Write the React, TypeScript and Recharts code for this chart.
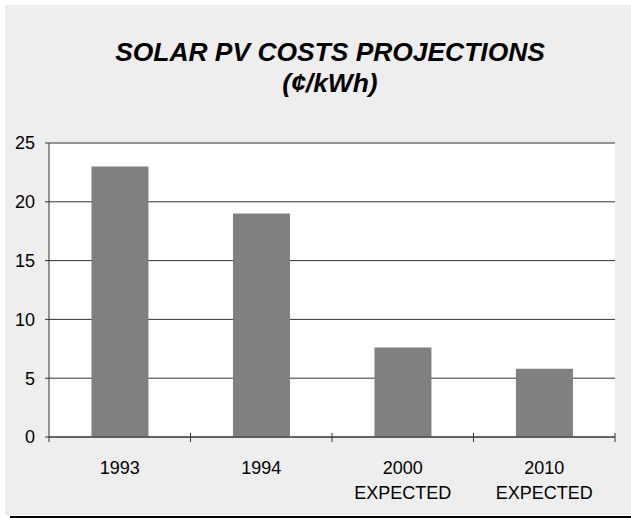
import { BarChart, Bar, XAxis, YAxis, CartesianGrid } from 'recharts';

const categories = ['1993', '1994', '2000 EXPECTED', '2010 EXPECTED'];
const costs = [23, 19, 7.6, 5.8];
const yTicks = [0, 5, 10, 15, 20, 25];
const titleLines = ['SOLAR PV COSTS PROJECTIONS', '(¢/kWh)'];

const data = categories.map((name, i) => ({ name, cost: costs[i] }));

const FONT = '"Liberation Sans", Arial, sans-serif';
const CHART_W = 626;
const CHART_H = 510;
const MARGIN = { top: 138, right: 16, left: 0, bottom: 0 };
const Y_W = 44;
const BAND = (CHART_W - MARGIN.right - Y_W) / categories.length;

function XTick(props: any) {
  const { x, y, payload, index } = props;
  const [first, ...rest] = String(payload.value).split(' ');
  return (
    <g>
      {index === 0 && (
        <line x1={x - BAND / 2} x2={x - BAND / 2} y1={y} y2={y + 5} stroke="#333" />
      )}
      <line x1={x + BAND / 2} x2={x + BAND / 2} y1={y - 4} y2={y + 5} stroke="#333" />
      <text x={x} y={y + 37} textAnchor="middle" fontSize={18} fontFamily={FONT} fill="#000">
        {first}
      </text>
      {rest.length > 0 && (
        <text x={x} y={y + 62} textAnchor="middle" fontSize={18} fontFamily={FONT} fill="#000">
          {rest.join(' ')}
        </text>
      )}
    </g>
  );
}

export default function App() {
  return (
    <div style={{ position: 'absolute', left: 0, top: 0, width: 631, height: 518, background: '#fff' }}>
      <div style={{ position: 'absolute', left: 5, top: 5, width: CHART_W, height: CHART_H, background: '#eeeeee' }}>
        <svg width={CHART_W} height={110} style={{ position: 'absolute', left: 0, top: 0 }}>
          <text x={325} y={56} textAnchor="middle" fontSize={26.4} fontWeight="bold" fontStyle="italic" fontFamily={FONT} fill="#000">
            {titleLines[0]}
          </text>
          <text x={325} y={87} textAnchor="middle" fontSize={26.4} fontWeight="bold" fontStyle="italic" fontFamily={FONT} fill="#000">
            {titleLines[1]}
          </text>
        </svg>
        <BarChart width={CHART_W} height={CHART_H} data={data} margin={MARGIN} barCategoryGap="30%">
          <CartesianGrid vertical={false} stroke="#333" fill="#ffffff" fillOpacity={1} />
          <XAxis
            dataKey="name"
            height={78}
            axisLine={{ stroke: '#333' }}
            tickLine={false}
            tickSize={0}
            tickMargin={0}
            tick={<XTick />}
            interval={0}
          />
          <YAxis
            width={Y_W}
            domain={[0, 25]}
            ticks={yTicks}
            axisLine={{ stroke: '#333' }}
            tickLine={{ stroke: '#333' }}
            tickSize={4}
            tickMargin={10}
            tick={{ fontSize: 18, fontFamily: FONT, fill: '#000' }}
          />
          <Bar dataKey="cost" fill="#808080" isAnimationActive={false} />
        </BarChart>
      </div>
      <div style={{ position: 'absolute', left: 10, top: 516, width: 621, height: 2, background: '#000' }} />
    </div>
  );
}
